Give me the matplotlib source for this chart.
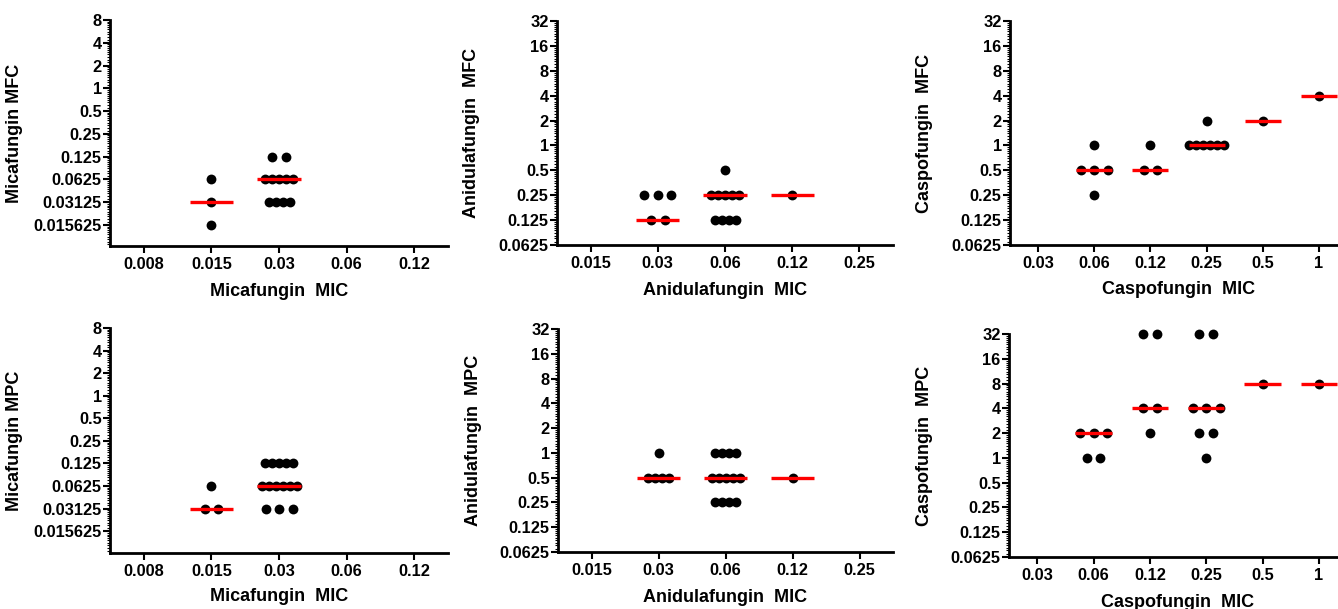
import matplotlib
matplotlib.use("Agg")
import matplotlib.pyplot as plt
from matplotlib.ticker import FixedLocator, NullFormatter
import numpy as np

plt.rcParams['font.family'] = ['Liberation Sans', 'DejaVu Sans']
plt.rcParams['font.weight'] = 'bold'

# x categories (MIC) for each drug
mica_mic = ["0.008", "0.015", "0.03", "0.06", "0.12"]
anid_mic = ["0.015", "0.03", "0.06", "0.12", "0.25"]
casp_mic = ["0.03", "0.06", "0.12", "0.25", "0.5", "1"]

# y ticks
mica_yticks = [8, 4, 2, 1, 0.5, 0.25, 0.125, 0.0625, 0.03125, 0.015625]
mica_ylabels = ["8", "4", "2", "1", "0.5", "0.25", "0.125", "0.0625", "0.03125", "0.015625"]
wide_yticks = [32, 16, 8, 4, 2, 1, 0.5, 0.25, 0.125, 0.0625]
wide_ylabels = ["32", "16", "8", "4", "2", "1", "0.5", "0.25", "0.125", "0.0625"]

# observations per MIC category
mica_mfc = [[],
            [0.0625, 0.03125, 0.015625],
            [0.125, 0.125, 0.0625, 0.0625, 0.0625, 0.0625, 0.0625,
             0.03125, 0.03125, 0.03125, 0.03125],
            [], []]
mica_mfc_med = [None, 0.03125, 0.0625, None, None]

anid_mfc = [[],
            [0.25, 0.25, 0.25, 0.125, 0.125],
            [0.5, 0.25, 0.25, 0.25, 0.25, 0.25, 0.125, 0.125, 0.125, 0.125],
            [0.25],
            []]
anid_mfc_med = [None, 0.125, 0.25, 0.25, None]

casp_mfc = [[],
            [1, 0.5, 0.5, 0.5, 0.25],
            [1, 0.5, 0.5],
            [2, 1, 1, 1, 1, 1, 1],
            [2],
            [4]]
casp_mfc_med = [None, 0.5, 0.5, 1, 2, 4]

mica_mpc = [[],
            [0.0625, 0.03125, 0.03125],
            [0.125, 0.125, 0.125, 0.125, 0.125,
             0.0625, 0.0625, 0.0625, 0.0625, 0.0625, 0.0625,
             0.03125, 0.03125, 0.03125],
            [], []]
mica_mpc_med = [None, 0.03125, 0.0625, None, None]

anid_mpc = [[],
            [1, 0.5, 0.5, 0.5, 0.5],
            [1, 1, 1, 1, 0.5, 0.5, 0.5, 0.5, 0.5, 0.25, 0.25, 0.25, 0.25],
            [0.5],
            []]
anid_mpc_med = [None, 0.5, 0.5, 0.5, None]

casp_mpc = [[],
            [2, 2, 2, 1, 1],
            [32, 32, 4, 4, 2],
            [32, 32, 4, 4, 4, 2, 2, 1],
            [8],
            [8]]
casp_mpc_med = [None, 2, 4, 4, 8, 8]

W, H = 1338, 609
fig = plt.figure(figsize=(W / 100, H / 100), dpi=100)


def px_axes(left, top, right, bottom):
    return fig.add_axes([left / W, 1 - bottom / H, (right - left) / W, (bottom - top) / H])


def draw(ax, cats, values, meds, yticks, ylabels, ylim, xlabel, ylabel, ylab_x, xlab_y):
    ncat = len(cats)
    ax.set_xlim(-0.5, ncat - 0.5)
    ax.set_yscale('log', base=2)
    ax.set_ylim(*ylim)
    bbox = ax.get_position()
    px_per_unit = bbox.width * W / ncat
    for i, vals in enumerate(values):
        for v in sorted(set(vals)):
            n = vals.count(v)
            sp = (13.5 if n <= 3 else 7.0) / px_per_unit
            xs = i + (np.arange(n) - (n - 1) / 2) * sp
            ax.scatter(xs, [v] * n, s=50, color='black', zorder=3,
                       clip_on=False, linewidths=0)
        if meds[i] is not None:
            ax.hlines(meds[i], i - 0.32, i + 0.32, color='#ff0000', lw=2.4,
                      zorder=4, clip_on=False)
    ax.set_xticks(range(ncat))
    ax.set_xticklabels(cats, fontsize=11.8, fontweight='bold')
    ax.set_yticks(yticks)
    ax.set_yticklabels(ylabels, fontsize=11.8, fontweight='bold')
    lo = int(np.floor(np.log2(ylim[0])))
    hi = int(np.ceil(np.log2(ylim[1])))
    minors = [2.0 ** k * (1 + j / 10) for k in range(lo, hi) for j in range(1, 10)]
    minors = [m for m in minors if ylim[0] <= m <= ylim[1]]
    ax.yaxis.set_minor_locator(FixedLocator(minors))
    ax.yaxis.set_minor_formatter(NullFormatter())
    ax.xaxis.set_minor_locator(FixedLocator([]))
    ax.tick_params(axis='y', which='major', length=5, width=1.5, pad=1, direction='out')
    ax.tick_params(axis='y', which='minor', length=2.5, width=0.8, direction='out')
    ax.tick_params(axis='x', which='major', length=5, width=1.5, pad=3, direction='out')
    for s in ['top', 'right']:
        ax.spines[s].set_visible(False)
    for s in ['left', 'bottom']:
        ax.spines[s].set_linewidth(2.0)
    ax.set_xlabel(xlabel, fontsize=13, fontweight='bold')
    ax.xaxis.set_label_coords(0.5, xlab_y)
    ax.set_ylabel(ylabel, fontsize=13, fontweight='bold')
    ax.yaxis.set_label_coords(ylab_x, 0.5)
    ax.patch.set_alpha(0)


ax1 = px_axes(110, 20, 448, 246)
draw(ax1, mica_mic, mica_mfc, mica_mfc_med, mica_yticks, mica_ylabels,
     (2 ** -6.93, 8), "Micafungin  MIC", "Micafungin MFC", -0.257, -0.164)

ax2 = px_axes(557, 21, 893, 245)
draw(ax2, anid_mic, anid_mfc, anid_mfc_med, wide_yticks, wide_ylabels,
     (0.0625, 32), "Anidulafungin  MIC", "Anidulafungin  MFC", -0.229, -0.165)

ax3 = px_axes(1010, 21, 1347, 245)
draw(ax3, casp_mic, casp_mfc, casp_mfc_med, wide_yticks, wide_ylabels,
     (0.0625, 32), "Caspofungin  MIC", "Caspofungin  MFC", -0.228, -0.16)

ax4 = px_axes(110, 328, 448, 553)
draw(ax4, mica_mic, mica_mpc, mica_mpc_med, mica_yticks, mica_ylabels,
     (2 ** -6.97, 8), "Micafungin  MIC", "Micafungin MPC", -0.257, -0.156)

ax5 = px_axes(558, 329, 893, 552)
draw(ax5, anid_mic, anid_mpc, anid_mpc_med, wide_yticks, wide_ylabels,
     (0.0625, 32), "Anidulafungin  MIC", "Anidulafungin  MPC", -0.227, -0.166)

ax6 = px_axes(1009, 334, 1347, 557)
draw(ax6, casp_mic, casp_mpc, casp_mpc_med, wide_yticks, wide_ylabels,
     (0.0625, 32), "Caspofungin  MIC", "Caspofungin  MPC", -0.225, -0.165)

fig.savefig("out.png", dpi=100)
